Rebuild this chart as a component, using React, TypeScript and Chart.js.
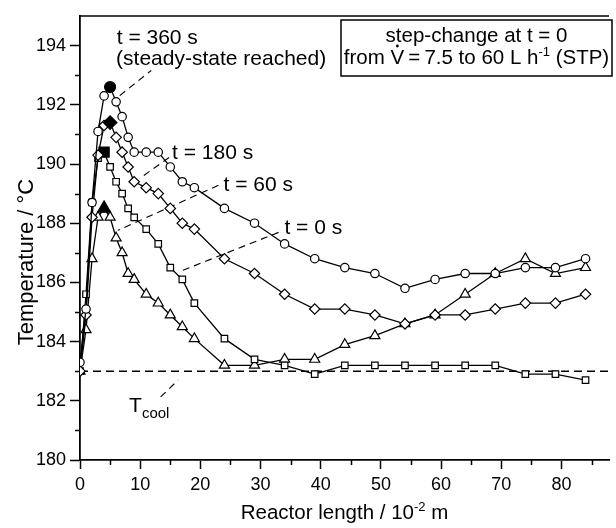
import React, { useEffect, useRef } from "react";
import { Chart, registerables } from "chart.js";

Chart.register(...registerables);

// ---- data ----
const reactorLength = [0, 1, 2, 3, 4, 5, 6, 7, 8, 9, 11, 13, 15, 17, 19, 24, 29, 34, 39, 44, 49, 54, 59, 64, 69, 74, 79, 84];
const tempAt0s = [183.0, 185.6, 188.7, 190.2, 190.4, 189.9, 189.4, 189.0, 188.5, 188.2, 187.8, 187.3, 186.5, 186.1, 185.3, 184.1, 183.4, 183.2, 182.9, 183.2, 183.2, 183.2, 183.2, 183.2, 183.2, 182.9, 182.9, 182.7];
const tempAt60s = [183.0, 184.4, 186.8, 188.2, 188.5, 188.2, 187.5, 187.0, 186.3, 186.1, 185.6, 185.3, 184.9, 184.5, 184.1, 183.2, 183.2, 183.4, 183.4, 183.9, 184.2, 184.6, 184.9, 185.6, 186.3, 186.8, 186.3, 186.5];
const tempAt180s = [183.0, 184.9, 188.2, 190.3, 191.3, 191.4, 190.9, 190.4, 189.9, 189.4, 189.2, 189.0, 188.5, 188.0, 187.8, 186.8, 186.3, 185.6, 185.1, 185.1, 184.9, 184.6, 184.9, 184.9, 185.1, 185.3, 185.3, 185.6];
const tempAt360s = [183.3, 185.1, 188.7, 191.1, 192.3, 192.6, 192.1, 191.6, 190.9, 190.4, 190.4, 190.4, 189.9, 189.4, 189.2, 188.5, 188.0, 187.3, 186.8, 186.5, 186.3, 185.8, 186.1, 186.3, 186.3, 186.5, 186.5, 186.8];
const coolantTemp = 183;

const xTickValues = [0, 10, 20, 30, 40, 50, 60, 70, 80];
const xMinorTicks = [5, 15, 25, 35, 45, 55, 65, 75, 85];
const yTickValues = [180, 182, 184, 186, 188, 190, 192, 194];
const yMinorTicks = [181, 183, 185, 187, 189, 191, 193];

// annotation texts and anchors (data units)
const labelTexts = ["t = 360 s", "(steady-state reached)", "t = 180 s", "t = 60 s", "t = 0 s"];
const labelX = [6.1, 6.0, 15.3, 23.85, 33.97];
const labelY = [194.07, 193.33, 190.17, 189.09, 187.64];
const leaderFromX = [6.6, 14.8, 23.0, 33.0, 13.4];
const leaderFromY = [192.31, 190.22, 189.28, 187.69, 182.13];
const leaderToX = [11.84, 9.9, 6.3, 17.1, 16.3];
const leaderToY = [193.16, 189.51, 187.76, 186.41, 182.7];
const coolLabelAt = [8.16, 181.62];

const FONT = '"Liberation Sans", Arial, Helvetica, sans-serif';

type Run = [string, number, number];

function runsWidth(ctx: CanvasRenderingContext2D, runs: Run[]) {
  let w = 0;
  for (const [t, size] of runs) {
    ctx.font = `${size}px ${FONT}`;
    w += ctx.measureText(t).width;
  }
  return w;
}

function drawRuns(ctx: CanvasRenderingContext2D, runs: Run[], x: number, y: number, onRun?: (i: number, x: number, w: number) => void) {
  let cx = x;
  runs.forEach(([t, size, dy], i) => {
    ctx.font = `${size}px ${FONT}`;
    ctx.fillText(t, cx, y + dy);
    const w = ctx.measureText(t).width;
    if (onRun) onRun(i, cx, w);
    cx += w;
  });
  return cx;
}

function argMax(a: number[]) {
  let k = 0;
  a.forEach((v, i) => { if (v > a[k]) k = i; });
  return k;
}

function makeSeries(values: number[], style: string, rOpen: number, rFilled: number) {
  const peak = argMax(values);
  return {
    data: reactorLength.map((x, i) => ({ x, y: values[i] })),
    showLine: true,
    borderColor: "#000",
    borderWidth: 1.3,
    pointStyle: style,
    pointRadius: values.map((_, i) => (i === peak ? rFilled : rOpen)),
    pointBackgroundColor: values.map((_, i) => (i === peak ? "#000" : "#fff")),
    pointBorderColor: "#000",
    pointBorderWidth: 1.2,
  };
}

const overlayPlugin = {
  id: "overlay",
  afterDraw(chart: any) {
    const { ctx, chartArea, scales } = chart;
    const x = scales.x;
    const y = scales.y;
    ctx.save();
    ctx.strokeStyle = "#000";
    ctx.fillStyle = "#000";

    // top frame line
    ctx.lineWidth = 1.5;
    ctx.beginPath();
    ctx.moveTo(chartArea.left, chartArea.top);
    ctx.lineTo(chartArea.right, chartArea.top);
    ctx.stroke();

    // minor ticks
    ctx.lineWidth = 1.5;
    ctx.beginPath();
    xMinorTicks.forEach((v) => {
      const px = Math.round(x.getPixelForValue(v)) + 0.5;
      ctx.moveTo(px, chartArea.bottom);
      ctx.lineTo(px, chartArea.bottom + 5);
    });
    yMinorTicks.forEach((v) => {
      const py = Math.round(y.getPixelForValue(v)) + 0.5;
      ctx.moveTo(chartArea.left - 5, py);
      ctx.lineTo(chartArea.left, py);
    });
    ctx.stroke();

    // annotation labels
    ctx.textAlign = "left";
    ctx.textBaseline = "alphabetic";
    ctx.font = `21px ${FONT}`;
    labelTexts.forEach((t, i) => {
      ctx.fillText(t, x.getPixelForValue(labelX[i]), y.getPixelForValue(labelY[i]));
    });
    drawRuns(ctx, [["T", 21, 0], ["cool", 15, 6]], x.getPixelForValue(coolLabelAt[0]), y.getPixelForValue(coolLabelAt[1]));

    // info box
    const bx = 341, by = 20, bw = 271, bh = 56;
    ctx.lineWidth = 1.5;
    ctx.strokeRect(bx, by, bw, bh);
    const cx = bx + bw / 2;
    ctx.font = `20.5px ${FONT}`;
    ctx.textAlign = "center";
    ctx.fillText("step-change at t = 0", cx, by + 22);
    ctx.textAlign = "left";
    const line2: Run[] = [
      ["from ", 20.5, 0],
      ["V", 20.5, 0],
      ["\u2009=\u20097.5 to 60 L h", 20.5, 0],
      ["-1", 13, -8],
      [" (STP)", 20.5, 0],
    ];
    const w2 = runsWidth(ctx, line2);
    const base2 = by + 44;
    drawRuns(ctx, line2, cx - w2 / 2, base2, (i, rx, rw) => {
      if (i === 1) {
        ctx.beginPath();
        ctx.arc(rx + rw / 2, base2 - 18, 1.4, 0, Math.PI * 2);
        ctx.fill();
      }
    });

    // axis titles
    const xt: Run[] = [["Reactor length / 10", 20.5, 0], ["-2", 13, -8], [" m", 20.5, 0]];
    const wx = runsWidth(ctx, xt);
    drawRuns(ctx, xt, (chartArea.left + chartArea.right) / 2 - wx / 2, 519);

    ctx.translate(27, 262);
    ctx.rotate(-Math.PI / 2);
    ctx.font = `22px ${FONT}`;
    ctx.textAlign = "center";
    ctx.textBaseline = "middle";
    ctx.fillText("Temperature / \u00B0C", 0, 0);

    ctx.restore();
  },
};

export default function App() {
  const canvasRef = useRef<HTMLCanvasElement | null>(null);

  useEffect(() => {
    const canvas = canvasRef.current;
    if (!canvas) return;

    const leaders = leaderFromX.map((fx, i) => ({
      data: [
        { x: fx, y: leaderFromY[i] },
        { x: leaderToX[i], y: leaderToY[i] },
      ],
      showLine: true,
      borderColor: "#000",
      borderWidth: 1.1,
      borderDash: [7, 5],
      pointRadius: 0,
    }));

    const chart = new Chart(canvas, {
      type: "scatter",
      data: {
        datasets: [
          makeSeries(tempAt360s, "circle", 4.2, 5.5),
          makeSeries(tempAt180s, "rectRot", 5.2, 6.8),
          makeSeries(tempAt0s, "rect", 4.6, 7.2),
          makeSeries(tempAt60s, "triangle", 5.8, 7.5),
          {
            data: [
              { x: 0, y: coolantTemp },
              { x: 87.9, y: coolantTemp },
            ],
            showLine: true,
            borderColor: "#000",
            borderWidth: 1.5,
            borderDash: [8, 5],
            pointRadius: 0,
          },
          ...leaders,
        ] as any,
      },
      options: {
        animation: false,
        responsive: false,
        layout: { padding: { top: 16, right: 0, bottom: 0, left: 0 } },
        plugins: { legend: { display: false }, tooltip: { enabled: false } },
        scales: {
          x: {
            type: "linear",
            min: 0,
            max: 87.9,
            afterBuildTicks: (s: any) => {
              s.ticks = xTickValues.map((v) => ({ value: v }));
            },
            afterFit: (s: any) => {
              s.height = 68;
            },
            grid: { display: true, drawOnChartArea: false, drawTicks: true, tickLength: 9, tickColor: "#000", tickWidth: 1.5 },
            border: { display: true, color: "#000", width: 1.8 },
            ticks: { font: { family: FONT, size: 18 }, color: "#000", padding: 5, maxRotation: 0, autoSkip: false },
          },
          y: {
            type: "linear",
            min: 180,
            max: 195,
            afterBuildTicks: (s: any) => {
              s.ticks = yTickValues.map((v) => ({ value: v }));
            },
            afterFit: (s: any) => {
              s.width = 80;
            },
            grid: { display: true, drawOnChartArea: false, drawTicks: true, tickLength: 10, tickColor: "#000", tickWidth: 1.5 },
            border: { display: true, color: "#000", width: 1.8 },
            ticks: { font: { family: FONT, size: 18 }, color: "#000", padding: 4, autoSkip: false },
          },
        },
      } as any,
      plugins: [overlayPlugin],
    });

    return () => chart.destroy();
  }, []);

  return (
    <div style={{ position: "fixed", left: 0, top: 0, width: 616, height: 528, background: "#fff" }}>
      <canvas ref={canvasRef} width={616} height={528} style={{ display: "block" }} />
    </div>
  );
}
